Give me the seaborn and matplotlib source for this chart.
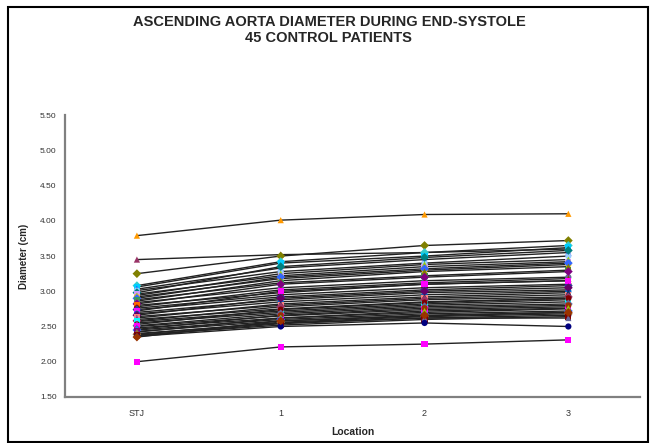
import matplotlib
matplotlib.use("Agg")
import matplotlib.pyplot as plt
from matplotlib.patches import Rectangle
import seaborn as sns
import pandas as pd

locations = ["STJ", "1", "2", "3"]

# diameter (cm) per patient at each location
stj = [3.79, 3.45, 3.25,
       3.08, 3.06, 3.03, 3.01, 2.98, 2.96, 2.94, 2.92, 2.90, 2.88, 2.86,
       2.84, 2.82, 2.80, 2.78, 2.76, 2.74, 2.72, 2.70, 2.68, 2.66, 2.64,
       2.62, 2.60, 2.58, 2.57, 2.55, 2.53, 2.51, 2.50, 2.48, 2.46, 2.45,
       2.43, 2.42, 2.40, 2.39, 2.38, 2.37, 2.36, 2.35,
       2.00]
loc1 = [4.01, 3.52, 3.50,
        3.42, 3.40, 3.33, 3.28, 3.35, 3.22, 3.25, 3.18, 3.20, 3.12, 3.15,
        3.05, 3.10, 2.98, 3.02, 2.95, 2.92, 3.00, 2.88, 2.85, 2.90, 2.80,
        2.82, 2.75, 2.78, 2.72, 2.70, 2.74, 2.68, 2.65, 2.62, 2.66, 2.60,
        2.58, 2.62, 2.55, 2.56, 2.52, 2.54, 2.50, 2.58,
        2.21]
loc2 = [4.09, 3.55, 3.65,
        3.55, 3.50, 3.45, 3.40, 3.48, 3.35, 3.38, 3.30, 3.32, 3.22, 3.28,
        3.15, 3.20, 3.10, 3.12, 3.05, 3.02, 3.10, 2.98, 2.95, 3.00, 2.90,
        2.92, 2.85, 2.88, 2.82, 2.80, 2.84, 2.78, 2.74, 2.70, 2.76, 2.68,
        2.65, 2.72, 2.62, 2.64, 2.60, 2.62, 2.55, 2.66,
        2.25]
loc3 = [4.10, 3.60, 3.72,
        3.65, 3.62, 3.55, 3.50, 3.58, 3.42, 3.45, 3.38, 3.40, 3.30, 3.35,
        3.20, 3.28, 3.15, 3.18, 3.10, 3.08, 3.15, 3.02, 3.00, 3.05, 2.95,
        2.98, 2.90, 2.92, 2.88, 2.85, 2.90, 2.82, 2.78, 2.75, 2.80, 2.72,
        2.70, 2.76, 2.66, 2.68, 2.64, 2.62, 2.50, 2.70,
        2.31]

marker_colors = ["#FF9900", "#993366", "#808000",
                 "#33CCCC", "#00CCFF", "#0000FF", "#99CCFF", "#008080",
                 "#CC99FF", "#99CC00", "#FFCC00", "#3366FF", "#339966",
                 "#808000", "#666699", "#800080", "#FF6600", "#993300",
                 "#800000", "#333399", "#FF00FF", "#969696", "#0066CC",
                 "#660066", "#FF8080", "#003366", "#9999FF", "#993366",
                 "#00FFFF", "#CC99FF", "#800000", "#666699", "#FF00FF",
                 "#008080", "#993300", "#3366FF", "#800080", "#99CC00",
                 "#333399", "#996633", "#800000", "#666699", "#000080",
                 "#993300", "#FF00FF"]
marker_shapes = ["^", "^", "D"] + ["D", "s", "^", "o"] * 10 + ["D", "s"]

patients = [f"P{i + 1}" for i in range(len(stj))]
rows = []
for i, p in enumerate(patients):
    for j, v in enumerate([stj[i], loc1[i], loc2[i], loc3[i]]):
        rows.append({"patient": p, "pos": j, "diam": v})
df = pd.DataFrame(rows)

sns.set_style("white")
plt.rcParams["font.family"] = ["Liberation Sans", "DejaVu Sans"]

fig = plt.figure(figsize=(6.5, 4.43), dpi=100)
ax = fig.add_axes([0.1, 0.104, 0.885, 0.636])

sns.lineplot(data=df, x="pos", y="diam", units="patient", estimator=None,
             color="#222222", linewidth=1.0, ax=ax, legend=False)
sns.scatterplot(data=df, x="pos", y="diam", hue="patient", style="patient",
                palette=dict(zip(patients, marker_colors)),
                markers=dict(zip(patients, marker_shapes)),
                s=20, linewidth=0, ax=ax, legend=False, zorder=3)

ax.set_xlim(-0.5, 3.5)
ax.set_ylim(1.5, 5.5)
ax.set_xticks(range(4))
ax.set_xticklabels(locations)
ax.set_xticks([0.5, 1.5, 2.5], minor=True)
ax.set_yticks([1.5, 2.0, 2.5, 3.0, 3.5, 4.0, 4.5, 5.0, 5.5])
ax.set_yticklabels([f"{v:.2f}" for v in ax.get_yticks()])
ax.tick_params(axis="x", which="major", length=0, labelsize=6.5, pad=9)
ax.tick_params(axis="x", which="minor", length=3, direction="out",
               color="#808080", width=1)
ax.tick_params(axis="y", length=3, direction="out", color="#808080",
               labelsize=6, pad=3, width=1)
for lbl in ax.get_xticklabels() + ax.get_yticklabels():
    lbl.set_color("#333333")

for side in ["top", "right"]:
    ax.spines[side].set_visible(False)
for side in ["left", "bottom"]:
    ax.spines[side].set_color("#808080")
    ax.spines[side].set_linewidth(1.6)

ax.set_xlabel("Location", fontsize=7.5, fontweight="bold", labelpad=6)
ax.set_ylabel("Diameter (cm)", fontsize=7, fontweight="bold", labelpad=8)

fig.text(0.506, 0.951, "ASCENDING AORTA DIAMETER DURING END-SYSTOLE",
         ha="center", va="center", fontsize=10.5, fontweight="bold")
fig.text(0.506, 0.914, "45 CONTROL PATIENTS",
         ha="center", va="center", fontsize=10.5, fontweight="bold")

fig.patches.append(Rectangle((0.012, 0.003), 0.985, 0.981,
                             transform=fig.transFigure, fill=False,
                             edgecolor="black", linewidth=1.5))

fig.savefig("out.png", dpi=100)
